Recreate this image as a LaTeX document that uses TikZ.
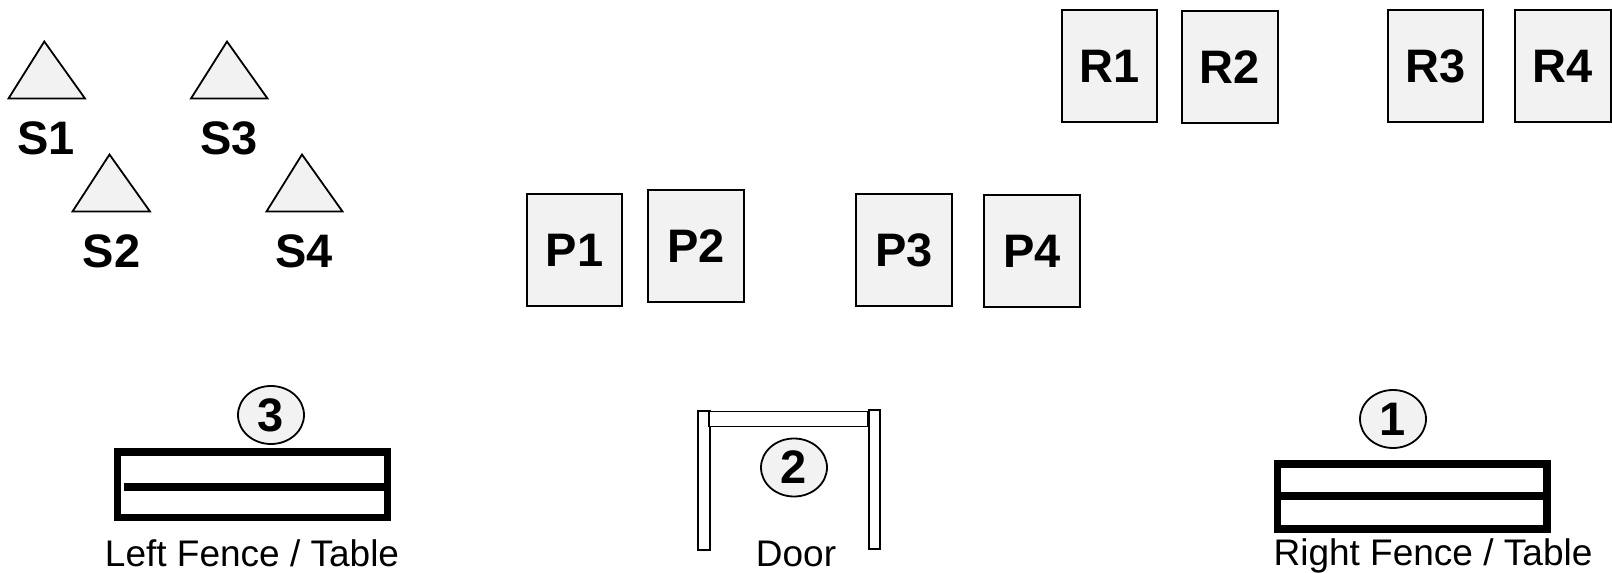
\documentclass[tikz,border=0pt]{standalone}
\usepackage{fontspec}
\setmainfont{Liberation Sans}
\definecolor{shapefill}{HTML}{F2F2F2}
\usetikzlibrary{shapes.geometric}
\tikzset{
  boldtext/.style={font=\fontsize{47}{52}\selectfont\bfseries},
  plainbox/.style={draw=black,line width=1.8pt,fill=shapefill,minimum width=95.5pt,minimum height=112pt,inner sep=0pt,outer sep=0pt,boldtext},
  slabel/.style={inner sep=0pt,outer sep=0pt,boldtext},
  tri/.style={draw=black,line width=1.8pt,fill=shapefill,line join=miter},
  badge/.style={draw=black,line width=1.8pt,fill=shapefill,ellipse,minimum width=66pt,minimum height=58pt,inner sep=0pt,outer sep=0pt,boldtext},
  doorpart/.style={draw=black,line width=1.8pt,fill=white},
  fencebar/.style={draw=black,line width=7.5pt,fill=white},
  fenceline/.style={draw=black,line width=8pt},
  caption/.style={inner sep=0pt,outer sep=0pt,anchor=base,font=\fontsize{37}{42}\selectfont},
}
\begin{document}
\begin{tikzpicture}[x=1pt,y=-1pt]
\useasboundingbox (0,0) rectangle (1612,573);
% triangles
\draw[tri] (44.3,41.5) -- (85,98.5) -- (8.5,98.5) -- cycle;
\draw[tri] (227,41.5) -- (267.5,98.5) -- (191,98.5) -- cycle;
\draw[tri] (109.5,154.5) -- (150,211.5) -- (72.5,211.5) -- cycle;
\draw[tri] (302,154.5) -- (342.5,211.5) -- (266.5,211.5) -- cycle;
\node[slabel] (s1) at (46,138) {S1};
\node[slabel] (s3) at (229,138) {S3};
\node[slabel] (s2) at (111.5,251) {S2};
\node[slabel] (s4) at (304,251) {S4};
% boxes
\node[plainbox] (r1) at (1109.5,66) {R1};
\node[plainbox] (r2) at (1230,67) {R2};
\node[plainbox] (r3) at (1435.5,66) {R3};
\node[plainbox] (r4) at (1563,66) {R4};
\node[plainbox] (p1) at (574.5,250) {P1};
\node[plainbox] (p2) at (696,246) {P2};
\node[plainbox] (p3) at (904,250) {P3};
\node[plainbox] (p4) at (1032,251) {P4};
% left fence
\draw[fencebar] (117.7,452) rectangle (387.3,517.5);
\draw[fenceline] (124,486.7) -- (387,486.7);
\node[badge] (b3) at (271,415) {3};
\node[caption] (c3) at (252,566) {Left Fence / Table};
% door
\draw[doorpart] (698,411) rectangle (710,550);
\draw[doorpart] (869,410) rectangle (880,549);
\draw[doorpart] (709,411.5) rectangle (868,426.5);
\node[badge] (b2) at (794,467.5) {2};
\node[caption] (c2) at (796,566) {Door};
% right fence
\draw[fencebar] (1277.7,464) rectangle (1547,529);
\draw[fenceline] (1274,496.2) -- (1550.7,496.2);
\node[badge] (b1) at (1393,419) {1};
\node[caption] (c1) at (1433,565) {Right Fence / Table};
\end{tikzpicture}
\end{document}
